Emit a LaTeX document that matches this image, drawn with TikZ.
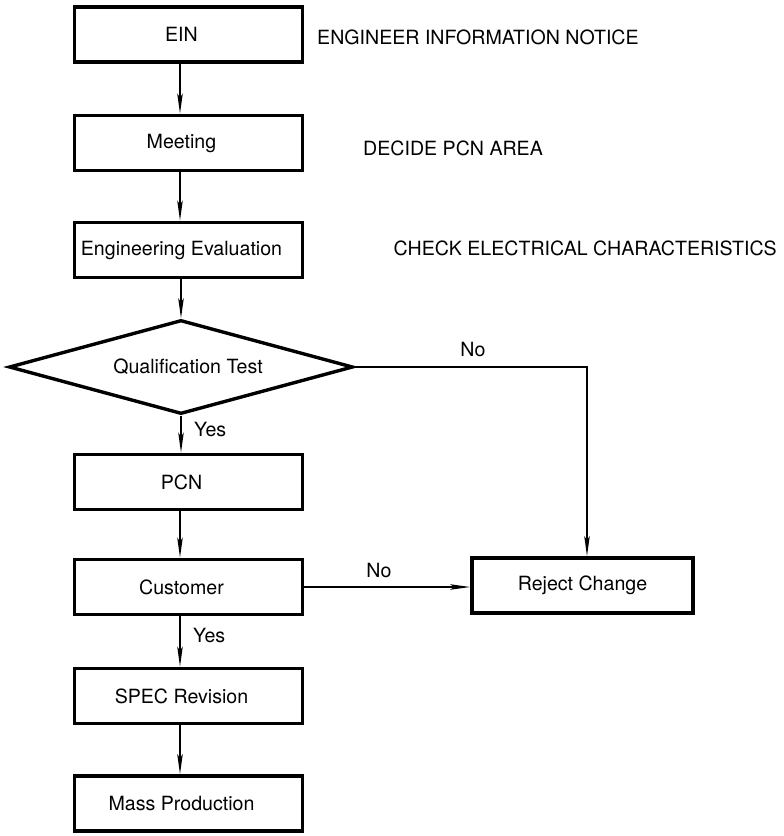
\documentclass[tikz,border=0pt]{standalone}
\usepackage{fontspec}
\setmainfont{TeX Gyre Heros}
\usetikzlibrary{shapes.geometric,arrows.meta}
\begin{document}
\begin{tikzpicture}[x=1pt,y=-1pt,
  txt/.style={font=\fontsize{19.6}{22}\selectfont, inner sep=0pt},
  box/.style={draw, line width=3.8pt, minimum width=228pt, minimum height=55pt, inner sep=0pt},
  decision/.style={draw, diamond, aspect=3.6, line width=3.4pt, minimum width=344pt, minimum height=94pt, inner sep=0pt},
  flow/.style={line width=1.4pt, -{Stealth[length=20pt,width=5.5pt,inset=4pt]}},
  link/.style={line width=1.4pt}]
\useasboundingbox (0,0) rectangle (784,836);

% process boxes (labels sit slightly left of the box centre, on the flow line)
\node[box, label={[txt,xshift=-7pt]center:EIN}] (ein) at (188.5,34.5) {};
\node[box, label={[txt,xshift=-7pt]center:Meeting}] (meet) at (188.5,143) {};
\node[box, label={[txt,xshift=-7pt]center:Engineering Evaluation}] (eval) at (188.5,250) {};
\node[decision, label={[txt,xshift=7pt]center:Qualification Test}] (qt) at (181,367) {};
\node[box, label={[txt,xshift=-7pt]center:PCN}] (pcn) at (188.5,482) {};
\node[box, label={[txt,xshift=-7pt]center:Customer}] (cust) at (188.5,587) {};
\node[box, label={[txt,xshift=-7pt]center:SPEC Revision}] (spec) at (188.5,696) {};
\node[box, label={[txt,xshift=-7pt]center:Mass Production}] (mass) at (188.5,803.5) {};
\node[box, minimum width=221pt, label={[txt]center:Reject Change}] (rej) at (582.5,585.5) {};

% side notes
\node[txt, anchor=west] (n1) at (317,37) {ENGINEER INFORMATION NOTICE};
\node[txt, anchor=west] (n2) at (363,148) {DECIDE PCN AREA};
\node[txt, anchor=east] (n3) at (777,248) {CHECK ELECTRICAL CHARACTERISTICS};

% main flow
\draw[flow] ([xshift=-8.5pt]ein.south) -- ([xshift=-8.5pt]meet.north);
\draw[flow] ([xshift=-8.5pt]meet.south) -- ([xshift=-8.5pt]eval.north);
\draw[flow] (qt.north |- eval.south) -- (qt.north);
\draw[flow] (qt.south) -- (qt.south |- pcn.north);
\draw[flow] ([xshift=-8.5pt]pcn.south) -- ([xshift=-8.5pt]cust.north);
\draw[flow] ([xshift=-8.5pt]cust.south) -- ([xshift=-8.5pt]spec.north);
\draw[flow] ([xshift=-8.5pt]spec.south) -- ([xshift=-8.5pt]mass.north);

% rejection branches
\coordinate (rt) at ([xshift=4.5pt]rej.north);
\draw[flow] (qt.east) -| (rt);
\draw[flow] (cust.east) -- (cust.east -| rej.west);

% branch labels
\node[txt] (no1) at (473,349) {No};
\node[txt] (no2) at (379,570) {No};
\node[txt, anchor=west] (yes1) at (194,429) {Yes};
\node[txt, anchor=west] (yes2) at (193,635) {Yes};
\end{tikzpicture}
\end{document}
